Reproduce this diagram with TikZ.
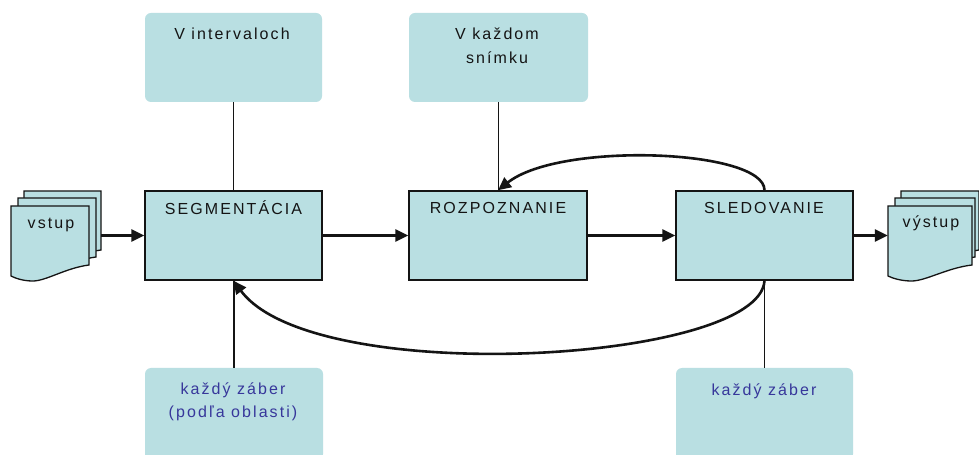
\documentclass[tikz,border=0pt]{standalone}
\usepackage{fontspec}
\setmainfont{Liberation Sans}[LetterSpace=13]
\usetikzlibrary{arrows.meta,calc}
\definecolor{boxfill}{RGB}{185,223,226}
\definecolor{txtblue}{RGB}{55,55,155}
\definecolor{ink}{RGB}{20,20,20}
\newcommand\docpg[3]{%
  \filldraw[page] ({#1},{#2}) -- ({#1+#3},{#2}) -- ({#1+#3},{#2+59})
    .. controls ({#1+0.7*#3},{#2+62}) and ({#1+0.45*#3},{#2+75}) .. ({#1+0.28*#3},{#2+75})
    .. controls ({#1+0.15*#3},{#2+75}) and ({#1+0.05*#3},{#2+72}) .. ({#1},{#2+70}) -- cycle;}
\begin{document}
\begin{tikzpicture}[x=1bp,y=-1bp,
  proc/.style={rectangle,draw=ink,line width=1.5bp,fill=boxfill,minimum width=177bp,minimum height=89bp,inner sep=0pt},
  note/.style={rectangle,fill=boxfill,rounded corners=6bp,minimum width=177bp,minimum height=89bp,inner sep=0pt},
  lbl/.style={font=\fontsize{16bp}{20bp}\selectfont,text=ink,inner sep=0pt,anchor=base},
  bluelbl/.style={lbl,text=txtblue},
  flow/.style={line width=2.6bp,draw=ink,-{Triangle[length=13bp,width=12bp]}},
  tie/.style={line width=1.6bp,draw=ink},
  page/.style={draw=ink,line width=1.3bp,fill=boxfill},
  stack/.style={rectangle,draw=none,inner sep=0pt,minimum height=89bp}]
\useasboundingbox (0,0) rectangle (979,455);
\clip (0,0) rectangle (979,455);
\fill[white] (0,0) rectangle (979,455);

% annotation boxes
\node[note] (n1) at (233.5,57.5) {};
\node[note,minimum width=179bp] (n2) at (498.5,57.5) {};
\node[note,minimum width=178bp,minimum height=92bp] (n3) at (234,414) {};
\node[note,minimum height=92bp] (n4) at (764.5,414) {};

% process boxes
\node[proc] (seg) at (233.5,235.5) {};
\node[proc,minimum width=178bp] (rozp) at (498,235.5) {};
\node[proc] (sled) at (764.5,235.5) {};

% document stacks
\node[stack,minimum width=90bp] (in) at (56,235.5) {};
\node[stack,minimum width=92bp] (out) at (934,235.5) {};
\docpg{24}{191}{77}
\docpg{18}{198}{78}
\docpg{11}{206}{78}
\docpg{901}{191}{78}
\docpg{895}{198}{80}
\docpg{888}{206}{84}

% labels
\node[lbl] (t1) at (232,40) {V intervaloch};
\node[lbl] (t2a) at (497,40) {V každom};
\node[lbl] (t2b) at (497,64) {snímku};
\node[lbl] (tseg) at (233.5,215) {SEGMENTÁCIA};
\node[lbl] (trozp) at (498,214) {ROZPOZNANIE};
\node[lbl] (tsled) at (764,214) {SLEDOVANIE};
\node[lbl] (tin) at (51,229) {vstup};
\node[lbl] (tout) at (931,228) {výstup};
\node[bluelbl] (t3a) at (233,394) {každý záber};
\node[bluelbl] (t3b) at (233,417) {(podľa oblasti)};
\node[bluelbl] (t4) at (764,395) {každý záber};

% ties
\draw[tie] (n1.south) -- (n1.south |- seg.north);
\draw[tie] (n2.south) -- (n2.south |- rozp.north);
\draw[tie] (n3.north) -- (n3.north |- seg.south);
\draw[tie] (n4.north) -- (n4.north |- sled.south);

% flow
\draw[flow] (in.east) -- (seg.west);
\draw[flow] (seg.east) -- (rozp.west);
\draw[flow] (rozp.east) -- (sled.west);
\draw[flow] (sled.east) -- (out.west);
\draw[flow] (sled.north) .. controls ($(sled.north)+(0,-41)$) and ($(rozp.north)+(62,-49)$) .. (rozp.north);
\draw[flow] (sled.south) .. controls ($(sled.south)+(-5,82)$) and ($(seg.south)+(80,108)$) .. (seg.south);
\end{tikzpicture}
\end{document}
